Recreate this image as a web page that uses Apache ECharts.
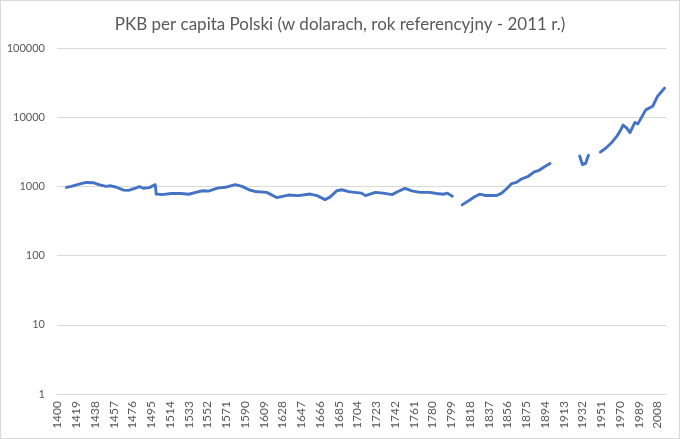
<!DOCTYPE html>
<html><head><meta charset="utf-8">
<script src="https://cdn.jsdelivr.net/npm/echarts@6/dist/echarts.min.js"></script>
<style>
html,body{margin:0;padding:0;background:#fff;}
#c{width:680px;height:439px;box-sizing:border-box;border:1px solid #d9d9d9;}
</style></head><body>
<div id="c"></div>
<script>
const titleText = 'PKB per capita Polski (w dolarach, rok referencyjny - 2011 r.)';
const firstYear = 1400, lastYear = 2016;
const yTicks = [1, 10, 100, 1000, 10000, 100000];

const seg1Years  = [1409,1414,1422,1429,1436,1442,1449,1454,1459,1467,1472,1479,1483,1487,1493,1499,1500,1506,1515,1525,1533,1540,1547,1553,1562,1570,1580,1587,1594,1600,1612,1622,1634,1644,1656,1663,1671,1676,1683,1688,1695,1701,1708,1712,1722,1730,1739,1745,1752,1759,1767,1777,1784,1791,1795,1800];
const seg1Values = [970,1000,1080,1140,1130,1060,1000,1020,980,885,875,945,990,940,960,1060,775,760,790,790,770,820,865,855,945,970,1060,1000,895,845,820,690,750,735,775,735,645,700,865,895,840,820,800,735,820,800,760,845,935,860,820,820,790,770,800,720];

const seg2Years  = [1810,1818,1823,1828,1833,1838,1845,1850,1855,1860,1865,1870,1877,1883,1888,1893,1899];
const seg2Values = [541,640,715,772,740,740,740,800,925,1095,1145,1280,1400,1620,1710,1910,2140];

const seg3Years  = [1929,1930,1931,1932,1933,1934,1935,1936,1937,1938];
const seg3Values = [2740,2500,2250,2060,2050,2080,2150,2350,2600,2810];

const seg4Years  = [1950,1956,1962,1967,1970,1973,1977,1980,1985,1988,1990,1996,2003,2008,2015];
const seg4Values = [3135,3620,4390,5370,6300,7690,6900,6000,8400,8000,7510,12750,14400,20100,26300];

const categories = [];
for (let y = firstYear; y <= lastYear; y++) categories.push(String(y));

function pairs(ys, vs){ return ys.map((y,i)=>[String(y), vs[i]]); }

const lineStyle = {color:'#4472C4', width:2.9, cap:'round', join:'round'};
const mk = (ys, vs) => ({type:'line', data:pairs(ys,vs), showSymbol:false, symbol:'none',
  lineStyle:lineStyle, itemStyle:{color:'#4472C4'}, smooth:false, animation:false});

const chart = echarts.init(document.getElementById('c'), null, {renderer:'canvas'});
chart.setOption({
  animation:false,
  title:{text:titleText, left:'center', top:10,
    textStyle:{fontFamily:'Lato', fontWeight:'normal', fontSize:17, color:'#595959'}},
  grid:{left:56, right:13, top:47, bottom:44, containLabel:false},
  xAxis:{type:'category', data:categories, boundaryGap:true,
    axisLine:{show:true, lineStyle:{color:'#d9d9d9'}},
    axisTick:{show:false},
    axisLabel:{interval:18, rotate:90, color:'#595959', fontFamily:'Lato', fontSize:12, margin:7}},
  yAxis:{type:'log', logBase:10, min:yTicks[0], max:yTicks[yTicks.length-1],
    axisLine:{show:false}, axisTick:{show:false},
    splitLine:{show:true, lineStyle:{color:'#d9d9d9', width:1}},
    axisLabel:{color:'#595959', fontFamily:'Lato', fontSize:11, margin:12,
      formatter:function(v){ return String(Math.round(v)); }}},
  series:[mk(seg1Years,seg1Values), mk(seg2Years,seg2Values), mk(seg3Years,seg3Values), mk(seg4Years,seg4Values)]
});
</script></body></html>
